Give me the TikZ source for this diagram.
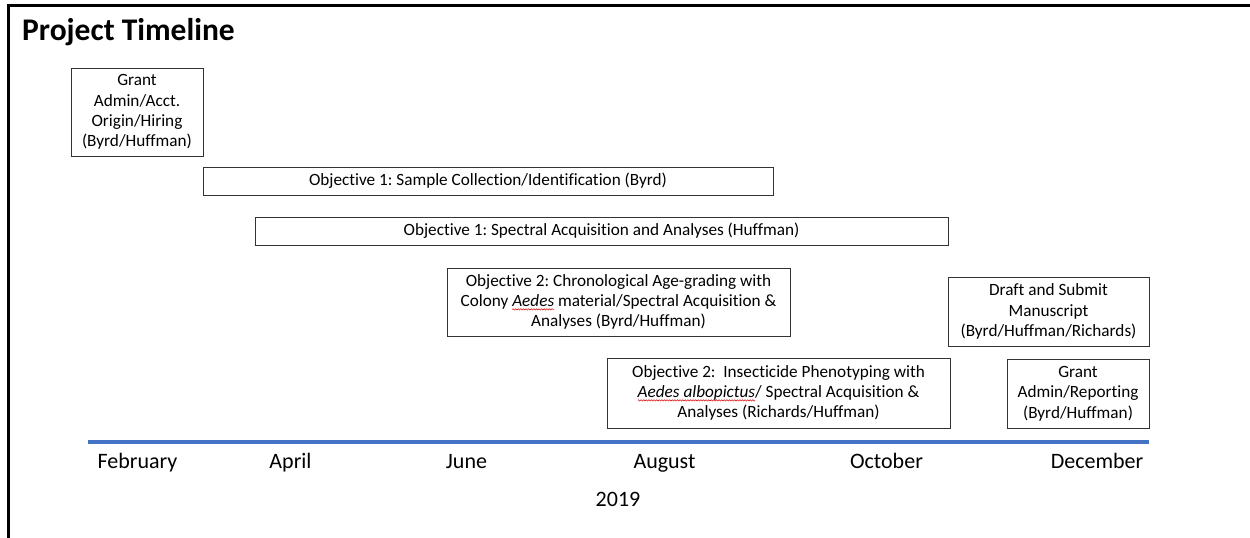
\documentclass[tikz,border=0pt]{standalone}
\usepackage{fontspec}
\setmainfont[Ligatures=NoCommon]{Carlito}
\usetikzlibrary{decorations.pathmorphing}
\frenchspacing
\newsavebox\wavebox
\newcommand\spellwave[1]{\sbox\wavebox{#1}\leavevmode\rlap{\tikz[overlay,x=1pt,y=1pt]\draw[red!85!black,line width=0.5pt,decorate,decoration={snake,amplitude=0.7pt,segment length=2.6pt}] (0,-2.8) -- (\the\wd\wavebox,-2.8);}\usebox\wavebox}
\definecolor{axisblue}{RGB}{68,114,196}
\begin{document}
\begin{tikzpicture}[x=1pt,y=-1pt,
  box/.style={draw=black!80, line width=1pt, inner sep=0pt, align=center,
    font=\fontsize{17.2}{20.3}\selectfont},
  month/.style={inner sep=0pt, anchor=base, font=\fontsize{22}{24}\selectfont}]
\useasboundingbox (0,0) rectangle (1250,538);
% frame
\draw[line width=2.5pt] (1250,5.5) -- (8.5,5.5) -- (8.5,538);
\node[inner sep=0pt, anchor=base west, font=\bfseries\fontsize{31.5}{34}\selectfont] (title) at (22,40) {Project Timeline};
% boxes
\node[box, minimum width=132, minimum height=88] (grant) at (137,112) {Grant\\Admin/Acct.\\Origin/Hiring\\(Byrd/Huffman)};
\node[box, minimum width=570, minimum height=28] (sample) at (488,181) {Objective 1: Sample Collection/Identification (Byrd)};
\node[box, minimum width=693, minimum height=28] (spectral) at (601.5,231) {Objective 1: Spectral Acquisition and Analyses (Huffman)};
\node[box, minimum width=343, minimum height=68] (chrono) at (618.5,302) {Objective 2: Chronological Age-grading with\\Colony \spellwave{\textit{Aedes}} material/Spectral Acquisition \&\\Analyses (Byrd/Huffman)};
\node[box, minimum width=343, minimum height=70] (insect) at (778.5,393) {Objective 2:\ \ Insecticide Phenotyping with\\\spellwave{\textit{Aedes albopictus}}/ Spectral Acquisition \&\\Analyses (Richards/Huffman)};
\node[box, minimum width=201, minimum height=69] (draft) at (1048.5,311.5) {Draft and Submit\\Manuscript\\(Byrd/Huffman/Richards)};
\node[box, minimum width=142, minimum height=69] (report) at (1078,393.5) {Grant\\Admin/Reporting\\(Byrd/Huffman)};
% axis
\coordinate (axL) at (88,442);
\coordinate (axR) at (1149,442);
\draw[axisblue, line width=4pt] (axL) -- (axR);
\node[month] (feb) at (137.5,468) {February};
\node[month] (apr) at (290.5,468) {April};
\node[month] (jun) at (466.5,468) {June};
\node[month] (aug) at (664.5,468) {August};
\node[month] (oct) at (886.5,468) {October};
\node[month] (dec) at (1097,468) {December};
\node[month] (year) at (618,506) {2019};
\end{tikzpicture}
\end{document}
